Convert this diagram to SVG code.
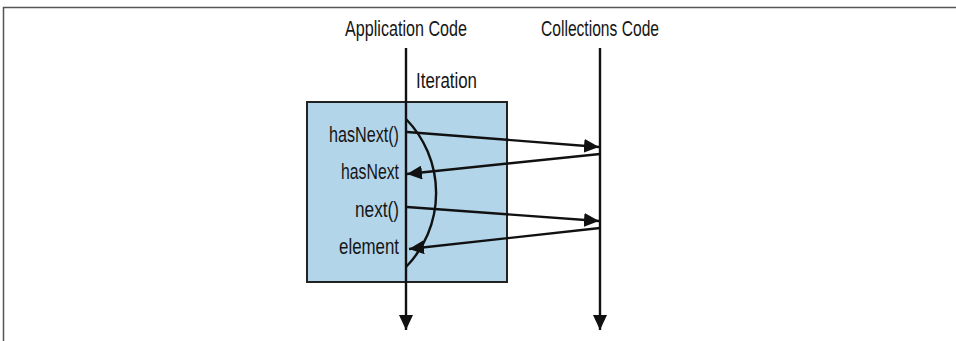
<svg xmlns="http://www.w3.org/2000/svg" width="956" height="341" viewBox="0 0 956 341">
<defs>
<style>
.t{font-family:"Liberation Sans",Arial,sans-serif;font-size:22.5px;fill:#151515}
.ln{stroke:#111;stroke-width:2.4;fill:none}
</style>
<marker id="ah" viewBox="0 0 15 14" refX="15" refY="7" markerWidth="15" markerHeight="14" markerUnits="userSpaceOnUse" orient="auto">
<path d="M0,0 L15,7 L0,14 Z" fill="#111"/>
</marker>
</defs>
<rect x="0" y="0" width="956" height="341" fill="#fff"/>
<path d="M3.5,341 V7.5 H956" fill="none" stroke="#555" stroke-width="1.5"/>
<g id="iteration-box">
<rect x="307" y="102" width="200" height="180" fill="#b3d5ea" stroke="#222" stroke-width="2"/>
<text class="t" x="416" y="88" textLength="61" lengthAdjust="spacingAndGlyphs">Iteration</text>
</g>
<g id="application-code">
<text class="t" x="345" y="36" textLength="122" lengthAdjust="spacingAndGlyphs">Application Code</text>
</g>
<g id="collections-code">
<text class="t" x="541" y="36" textLength="118" lengthAdjust="spacingAndGlyphs">Collections Code</text>
</g>
<g id="labels">
<text class="t" x="329" y="142" textLength="70" lengthAdjust="spacingAndGlyphs">hasNext()</text>
<text class="t" x="341" y="179" textLength="58" lengthAdjust="spacingAndGlyphs">hasNext</text>
<text class="t" x="355" y="217" textLength="44" lengthAdjust="spacingAndGlyphs">next()</text>
<text class="t" x="339" y="254" textLength="60" lengthAdjust="spacingAndGlyphs">element</text>
</g>
<g id="connectors">
<line class="ln" x1="406" y1="48" x2="406" y2="330" marker-end="url(#ah)"/>
<line class="ln" x1="600" y1="48" x2="600" y2="330" marker-end="url(#ah)"/>
<path class="ln" d="M406,119 A106,106 0 0 1 406,267"/>
<line class="ln" x1="407" y1="132" x2="599" y2="147" marker-end="url(#ah)"/>
<line class="ln" x1="600" y1="154" x2="407" y2="174" marker-end="url(#ah)"/>
<line class="ln" x1="407" y1="207" x2="599" y2="221" marker-end="url(#ah)"/>
<line class="ln" x1="600" y1="228" x2="409" y2="249" marker-end="url(#ah)"/>
</g>
</svg>
